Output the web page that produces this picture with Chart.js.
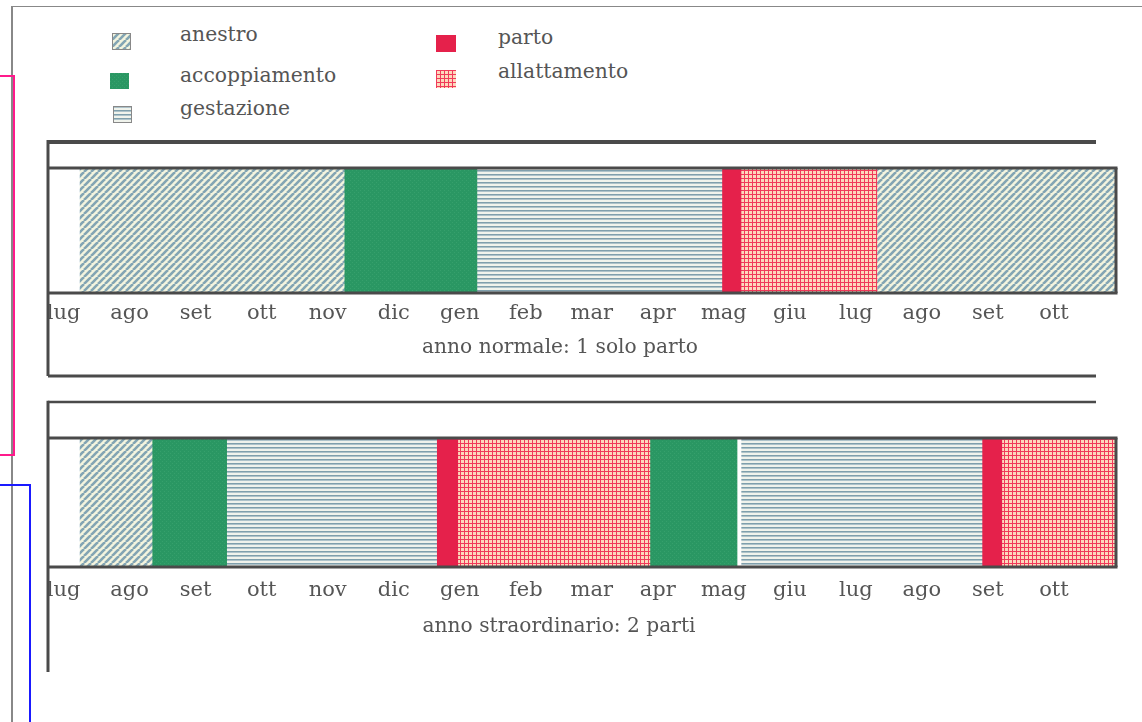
<!DOCTYPE html>
<html><head><meta charset="utf-8">
<script src="https://cdn.jsdelivr.net/npm/chart.js@4.4.1/dist/chart.umd.min.js"></script>
<style>
html,body{margin:0;padding:0;background:#fff;}
#page{position:relative;width:1142px;height:722px;overflow:hidden;background:#fff;font-family:"DejaVu Serif",serif;color:#555;}
.lbl{position:absolute;font-size:20.3px;line-height:24px;white-space:nowrap;}
.sub{position:absolute;font-size:20.2px;line-height:24px;white-space:nowrap;transform:translateX(-50%);}
.sw{position:absolute;}
.ln{position:absolute;}
canvas.ch{position:absolute;left:0;}
</style></head><body>
<div id="page">
  <div class="ln" style="left:12px;top:6px;width:1130px;height:1px;background:#888"></div>
  <div class="ln" style="left:11px;top:6px;width:2px;height:716px;background:#888"></div>
  <div class="ln" style="left:0;top:75px;width:14px;height:2px;background:#ff1a8c"></div>
  <div class="ln" style="left:13px;top:75px;width:2px;height:381px;background:#ff1a8c"></div>
  <div class="ln" style="left:0;top:454px;width:14px;height:2px;background:#ff1a8c"></div>
  <div class="ln" style="left:0;top:484px;width:31px;height:2px;background:#1a1aff"></div>
  <div class="ln" style="left:29px;top:484px;width:2px;height:238px;background:#1a1aff"></div>

  <canvas class="sw" id="sw0" width="19" height="17" style="left:112px;top:33px"></canvas>
  <canvas class="sw" id="sw1" width="19" height="16" style="left:110px;top:73px"></canvas>
  <canvas class="sw" id="sw2" width="19" height="17" style="left:113px;top:106px"></canvas>
  <canvas class="sw" id="sw3" width="20" height="17" style="left:436px;top:35px"></canvas>
  <canvas class="sw" id="sw4" width="20" height="18" style="left:436px;top:70px"></canvas>
  <div class="lbl" id="lg0" style="left:180px;top:22px"></div>
  <div class="lbl" id="lg1" style="left:180px;top:63px"></div>
  <div class="lbl" id="lg2" style="left:180px;top:96px"></div>
  <div class="lbl" id="lg3" style="left:498px;top:25px"></div>
  <div class="lbl" id="lg4" style="left:498px;top:59px"></div>

  <canvas class="ch" id="c1" width="1142" height="260" style="top:130px"></canvas>
  <canvas class="ch" id="c2" width="1142" height="285" style="top:395px"></canvas>
  <div class="sub" id="sub1" style="left:560px;top:334px"></div>
  <div class="sub" id="sub2" style="left:559px;top:613px"></div>
</div>
<script>
// ---- data ----
const months = ['lug','ago','set','ott','nov','dic','gen','feb','mar','apr','mag','giu','lug','ago','set','ott'];
const phaseNames = ['anestro','accoppiamento','gestazione','parto','allattamento'];
const titles = ['anno normale: 1 solo parto','anno straordinario: 2 parti'];
// positions in months counted from the first "lug" tick
const normalPhase = ['anestro','accoppiamento','gestazione','parto','allattamento','anestro'];
const normalStart = [0.25, 4.25, 6.26, 9.97, 10.26, 12.32];
const normalEnd   = [4.25, 6.26, 9.97, 10.26, 12.32, 15.94];
const extraPhase = ['anestro','accoppiamento','gestazione','parto','allattamento','accoppiamento','gestazione','parto','allattamento'];
const extraStart = [0.25, 1.34, 2.47, 5.65, 5.97, 8.88, 10.27, 13.91, 14.21];
const extraEnd   = [1.34, 2.47, 5.65, 5.97, 8.88, 10.20, 13.91, 14.21, 15.94];
const axisMin = -0.236, axisMax = 15.94;

// ---- patterns ----
function tile(w,h,draw){const c=document.createElement('canvas');c.width=w;c.height=h;draw(c.getContext('2d'),w,h);return c;}
const tiles = {
  anestro: tile(7,7,(g)=>{g.fillStyle='#f3f4de';g.fillRect(0,0,7,7);g.strokeStyle='#83a5b3';g.lineWidth=2.6;
    for(const o of [-7,0,7]){g.beginPath();g.moveTo(o,7);g.lineTo(o+7,0);g.stroke();}}),
  accoppiamento: tile(4,4,(g)=>{g.fillStyle='#2a9763';g.fillRect(0,0,4,4);g.fillStyle='#36a06c';g.fillRect(0,0,1,1);g.fillRect(2,2,1,1);}),
  gestazione: tile(4,4,(g)=>{g.fillStyle='#f0f3ec';g.fillRect(0,0,4,4);g.fillStyle='#7f9fac';g.fillRect(0,0,4,1);g.fillStyle='#aec3ca';g.fillRect(0,1,4,1);}),
  parto: tile(4,4,(g)=>{g.fillStyle='#e5214b';g.fillRect(0,0,4,4);}),
  allattamento: tile(4,4,(g)=>{g.fillStyle='#fdd8bc';g.fillRect(0,0,4,4);g.fillStyle='#f03a5a';g.fillRect(0,0,4,1);g.fillRect(0,0,1,4);})
};
function fillFor(ctx,p){return ctx.createPattern(tiles[p],'repeat');}

// legend swatches and labels (text kept as real text)
phaseNames.forEach((p,i)=>{
  const c=document.getElementById('sw'+i), g=c.getContext('2d');
  g.fillStyle=fillFor(g,p); g.fillRect(0,0,c.width,c.height);
  if(p==='anestro'||p==='gestazione'){g.strokeStyle='#888';g.lineWidth=1;g.strokeRect(0.5,0.5,c.width-1,c.height-1);}
  document.getElementById('lg'+i).textContent=p;
});
document.getElementById('sub1').textContent=titles[0];
document.getElementById('sub2').textContent=titles[1];

// frame lines drawn around the plot
const framePlugin = {
  id:'frame',
  afterDraw(chart, args, o){
    const {ctx, chartArea:a} = chart;
    ctx.save(); ctx.strokeStyle='#4a4a4a'; ctx.lineCap='butt';
    const L=(x1,y1,x2,y2,w)=>{ctx.lineWidth=w;ctx.beginPath();ctx.moveTo(x1,y1);ctx.lineTo(x2,y2);ctx.stroke();};
    L(a.left, o.topY, o.lineRight, o.topY, o.topW);
    L(a.left, o.topY-o.topW/2, a.left, o.leftBottom, 3);
    L(a.left, a.top, a.right+1.5, a.top, 3);
    L(a.left, a.bottom, a.right+1.5, a.bottom, 3);
    L(a.right, a.top, a.right, a.bottom, 3);
    if(o.bottomY) L(a.left, o.bottomY, o.lineRight, o.bottomY, 3);
    ctx.restore();
  }
};

function makeChart(id, phases, starts, ends, cfg){
  const ctx=document.getElementById(id).getContext('2d');
  const datasets = phases.map((p,i)=>({label:p, data:[[starts[i],ends[i]]], backgroundColor:fillFor(ctx,p),
     borderWidth:0, grouped:false, barPercentage:1, categoryPercentage:1}));
  return new Chart(ctx,{type:'bar',
    data:{labels:[cfg.label], datasets},
    options:{indexAxis:'y', responsive:false, animation:false, events:[], devicePixelRatio:1,
      layout:{padding:{left:48,right:26,top:cfg.top,bottom:0}},
      plugins:{legend:{display:false}, tooltip:{enabled:false}, frame:cfg.frame},
      scales:{
        x:{type:'linear', min:axisMin, max:axisMax, grid:{display:false, drawTicks:false}, border:{display:false},
           afterBuildTicks:(s)=>{s.ticks=months.map((m,i)=>({value:i}));},
           afterFit:(s)=>{s.height=cfg.axisH;},
           ticks:{autoSkip:false, maxRotation:0, minRotation:0, padding:cfg.tickPad, color:'#555',
             font:{family:'DejaVu Serif', size:21}, callback:(v)=>months[v]}},
        y:{display:false}
      }},
    plugins:[framePlugin]});
}
makeChart('c1', normalPhase, normalStart, normalEnd,
  {label:titles[0], top:38, axisH:97, tickPad:8, frame:{topY:12, topW:4, lineRight:1096, leftBottom:246, bottomY:246}});
makeChart('c2', extraPhase, extraStart, extraEnd,
  {label:titles[1], top:43, axisH:113, tickPad:11, frame:{topY:7, topW:2.5, lineRight:1096, leftBottom:277, bottomY:0}});
</script>
</body></html>
